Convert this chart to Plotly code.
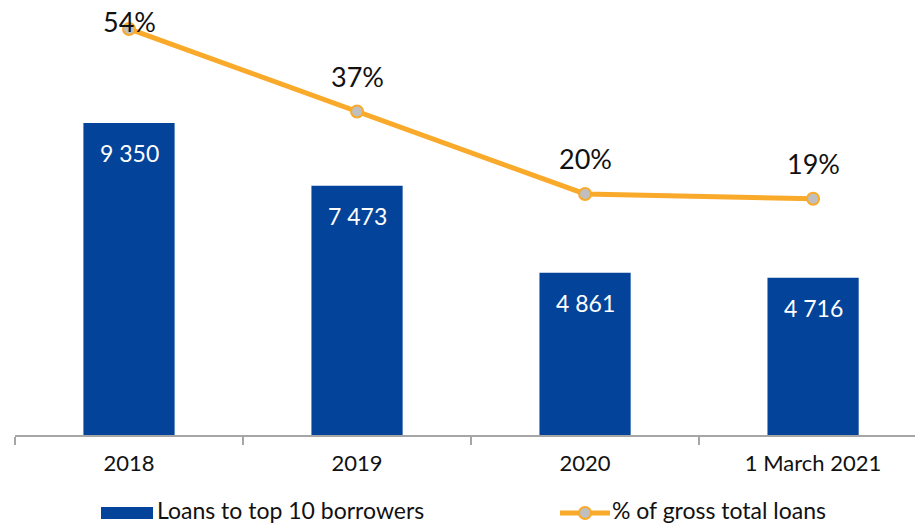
import plotly.graph_objects as go

categories = ["2018", "2019", "2020", "1 March 2021"]
loans_top10 = [9350, 7473, 4861, 4716]
pct_gross = [54, 37, 20, 19]

BLUE = "#03449A"
ORANGE = "#F9AA2A"
GRAY = "#BFBFBF"
FONT = "Lato, 'Noto Sans', sans-serif"

fig = go.Figure()
fig.add_trace(go.Bar(x=categories, y=loans_top10, marker=dict(color=BLUE, line_width=0),
                     width=0.4, name="Loans to top 10 borrowers", showlegend=False, yaxis="y"))
fig.add_trace(go.Scatter(x=categories, y=pct_gross, mode="lines+markers",
                         line=dict(color=ORANGE, width=5),
                         marker=dict(size=12, color=GRAY, line=dict(color=ORANGE, width=2)),
                         name="% of gross total loans", showlegend=False, yaxis="y2",
                         cliponaxis=False))

annotations = []
for i, v in enumerate(loans_top10):
    annotations.append(dict(x=i, y=v, xref="x", yref="y", text=f"{v:,}".replace(",", " "),
                            showarrow=False, yshift=-30, font=dict(color="white", size=23, family=FONT)))
for i, v in enumerate(pct_gross):
    annotations.append(dict(x=i, y=v, xref="x", yref="y2", text=f"{v}%",
                            showarrow=False, yshift=7 if i == 0 else 35,
                            font=dict(color="#111111", size=27, family=FONT)))

# manual legend
def px(xp):
    return (xp - 15) / 900
def py(yp):
    return (435 - yp) / 435

shapes = [
    dict(type="rect", xref="paper", yref="paper", x0=px(101), x1=px(153), y0=py(519), y1=py(507),
         fillcolor=BLUE, line_width=0),
    dict(type="line", xref="paper", yref="paper", x0=px(560), x1=px(610), y0=py(513), y1=py(513),
         line=dict(color=ORANGE, width=5)),
    dict(type="circle", xref="paper", yref="paper", xsizemode="pixel", ysizemode="pixel",
         xanchor=px(585), yanchor=py(513), x0=-6, x1=6, y0=-6, y1=6,
         fillcolor=GRAY, line=dict(color=ORANGE, width=2)),
]
annotations.append(dict(x=px(155), y=py(526), xref="paper", yref="paper", xanchor="left", yanchor="bottom",
                        text="Loans to top 10 borrowers", showarrow=False,
                        font=dict(size=23, color="#111111", family=FONT)))
annotations.append(dict(x=px(610), y=py(526), xref="paper", yref="paper", xanchor="left", yanchor="bottom",
                        text="% of gross total loans", showarrow=False,
                        font=dict(size=23, color="#111111", family=FONT)))

fig.update_layout(
    width=915, height=526,
    margin=dict(l=15, r=0, t=0, b=91),
    paper_bgcolor="white", plot_bgcolor="white",
    font=dict(family=FONT, color="#111111"),
    showlegend=False,
    bargap=0.6,
    xaxis=dict(type="category", range=[-0.5, 3.447], showgrid=False, showline=True,
               linecolor="#A6A6A6", linewidth=2, ticks="outside", tickson="boundaries",
               ticklen=8, tickwidth=2, tickcolor="#A6A6A6", ticklabelstandoff=8,
               tickfont=dict(size=22, color="#111111", family=FONT)),
    yaxis=dict(range=[0, 13036], visible=False, showgrid=False, zeroline=False),
    yaxis2=dict(range=[-29.67, 59.96], overlaying="y", visible=False, showgrid=False, zeroline=False),
    shapes=shapes,
    annotations=annotations,
)

fig.write_html("out.html")
